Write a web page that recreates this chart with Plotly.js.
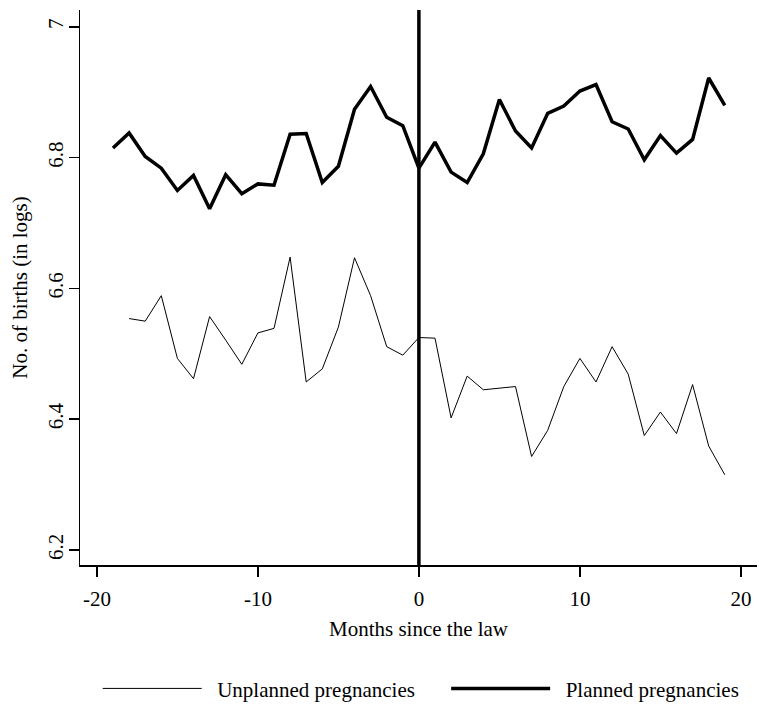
<!DOCTYPE html>
<html>
<head>
<meta charset="utf-8">
<script src="https://cdn.plot.ly/plotly-3.0.1.min.js"></script>
<style>html,body{margin:0;padding:0;background:#fff;}#chart{width:759px;height:711px;}</style>
</head>
<body>
<div id="chart"></div>
<script>
const plannedMonths = [-19,-18,-17,-16,-15,-14,-13,-12,-11,-10,-9,-8,-7,-6,-5,-4,-3,-2,-1,0,1,2,3,4,5,6,7,8,9,10,11,12,13,14,15,16,17,18,19];
const plannedValues = [6.815,6.838,6.802,6.784,6.750,6.773,6.722,6.774,6.745,6.760,6.758,6.836,6.837,6.762,6.787,6.874,6.909,6.862,6.849,6.784,6.824,6.778,6.762,6.806,6.889,6.841,6.815,6.868,6.879,6.902,6.912,6.855,6.844,6.797,6.834,6.807,6.828,6.922,6.880];
const unplannedMonths = [-18,-17,-16,-15,-14,-13,-12,-11,-10,-9,-8,-7,-6,-5,-4,-3,-2,-1,0,1,2,3,4,5,6,7,8,9,10,11,12,13,14,15,16,17,18,19];
const unplannedValues = [6.554,6.550,6.589,6.493,6.462,6.557,6.521,6.484,6.532,6.539,6.648,6.457,6.477,6.541,6.647,6.589,6.511,6.498,6.525,6.524,6.402,6.466,6.445,6.447,6.450,6.343,6.383,6.450,6.493,6.457,6.511,6.469,6.375,6.411,6.378,6.453,6.359,6.315];
const lawMonth = 0;
const xTicks = [-20,-10,0,10,20];
const yTicks = [6.2,6.4,6.6,6.8,7];
const seriesNames = ['Unplanned pregnancies', 'Planned pregnancies'];

const font = {family: 'Liberation Serif, Times New Roman, serif', size: 21, color: '#000'};
const sp = '&nbsp;';

const traces = [
  {x: unplannedMonths, y: unplannedValues, type: 'scatter', mode: 'lines',
   name: sp + sp + seriesNames[0] + sp.repeat(5),
   line: {color: '#000', width: 1}},
  {x: plannedMonths, y: plannedValues, type: 'scatter', mode: 'lines',
   name: sp + sp + seriesNames[1],
   line: {color: '#000', width: 3.5}}
];

const layout = {
  width: 759, height: 711,
  margin: {l: 80, r: 2, t: 10, b: 141},
  paper_bgcolor: '#fff', plot_bgcolor: '#fff',
  font: font,
  showlegend: true,
  legend: {orientation: 'h', x: 0.504, xanchor: 'center', y: -0.223, yanchor: 'middle',
           font: font, itemwidth: 99, traceorder: 'normal'},
  xaxis: {range: [-21.05, 21.0], tickvals: xTicks, ticktext: xTicks.map(String),
          showgrid: false, zeroline: false, showline: true, linecolor: '#000', linewidth: 1.5,
          ticks: 'outside', ticklen: 10, tickcolor: '#000', tickwidth: 1.5,
          ticklabelstandoff: 4,
          title: {text: 'Months since the law', font: font, standoff: 11}},
  yaxis: {range: [6.177, 7.026], tickvals: yTicks, ticktext: yTicks.map(String),
          showgrid: false, zeroline: false, showline: true, linecolor: '#000', linewidth: 1.5,
          ticks: 'outside', ticklen: 10, tickcolor: '#000', tickwidth: 1.5,
          tickangle: -90, ticklabelstandoff: -3,
          title: {text: 'No. of births (in logs)', font: font, standoff: 10}},
  shapes: [{type: 'line', xref: 'x', yref: 'paper', x0: lawMonth, x1: lawMonth, y0: 0, y1: 1,
            line: {color: '#000', width: 3.5}}]
};

Plotly.newPlot('chart', traces, layout, {displayModeBar: false, staticPlot: true});
</script>
</body>
</html>
